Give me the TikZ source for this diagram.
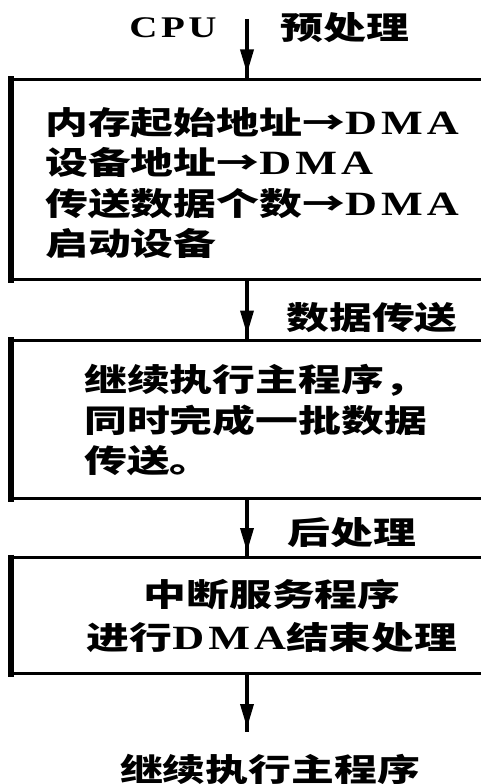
\documentclass[tikz,border=0pt]{standalone}
\usepackage{fontspec}
\setmainfont{Noto Sans CJK SC}[FakeStretch=1.36]
\newfontfamily\latinfont{Liberation Serif}[FakeStretch=1.3, LetterSpace=12]
\usetikzlibrary{arrows.meta,decorations.markings,positioning}

\newcommand{\dma}{{\latinfont\fontsize{34}{40}\selectfont DMA}}
\newcommand{\cpu}{{\latinfont\fontsize{30}{30}\selectfont CPU}}

\tikzset{
	box/.style={draw, line width=3pt, minimum width=489pt, anchor=north west, inner sep=0pt},
	txt/.style={align=left, inner sep=0pt, font=\bfseries\fontsize{31.5}{40.5}\selectfont},
	tag/.style={inner sep=0pt, font=\bfseries\fontsize{31.5}{31.5}\selectfont},
	edge/.style={line width=6pt, shorten <=-1.5pt, shorten >=-1.5pt},
	flow/.style={line width=3.5pt, postaction={decorate},
		decoration={markings, mark=at position -4pt with {\arrow{Triangle[length=24pt,width=13pt]}}}}
}

\begin{document}
\begin{tikzpicture}[x=1pt, y=-1pt]
	\useasboundingbox (0,0) rectangle (481,784);

	%1
	\coordinate (start) at (247,19);
	\node[tag] (cpu) at (173,28) {\cpu};
	\node[tag] (pre) at (345,28) {预处理};

	\node[box, minimum height=200.5pt] (b1) at (11,77.5) {};
	\draw[edge] (b1.north west) -- (b1.south west);
	\node[txt, anchor=west] (t1) at (45,183) {内存起始地址→\dma\\设备地址→\dma\\传送数据个数→\dma\\启动设备};

	\draw[flow] (start) -- (start |- b1.north);

	%2
	\node[tag] (move) at (372,318) {数据传送};

	\node[box, minimum height=158.5pt] (b2) at (11,338.5) {};
	\draw[edge] (b2.north west) -- (b2.south west);
	\node[txt, anchor=west] (t2) at (84,420.5) {继续执行主程序，\\同时完成一批数据\\传送。};

	\draw[flow] (start |- b1.south) -- (start |- b2.north);

	%3
	\node[tag] (post) at (352,533) {后处理};

	\node[box, minimum height=116pt] (b3) at (11,556) {};
	\draw[edge] (b3.north west) -- (b3.south west);
	\node[txt, align=center, font=\bfseries\fontsize{31.5}{43}\selectfont] (t3) at (272,615.5) {中断服务程序\\进行\dma 结束处理};

	\draw[flow] (start |- b2.south) -- (start |- b3.north);

	%4
	\coordinate (stop) at (247,732);
	\node[tag] (back) at (270,769) {继续执行主程序};

	\draw[flow] (start |- b3.south) -- (stop);

\end{tikzpicture}
\end{document}
